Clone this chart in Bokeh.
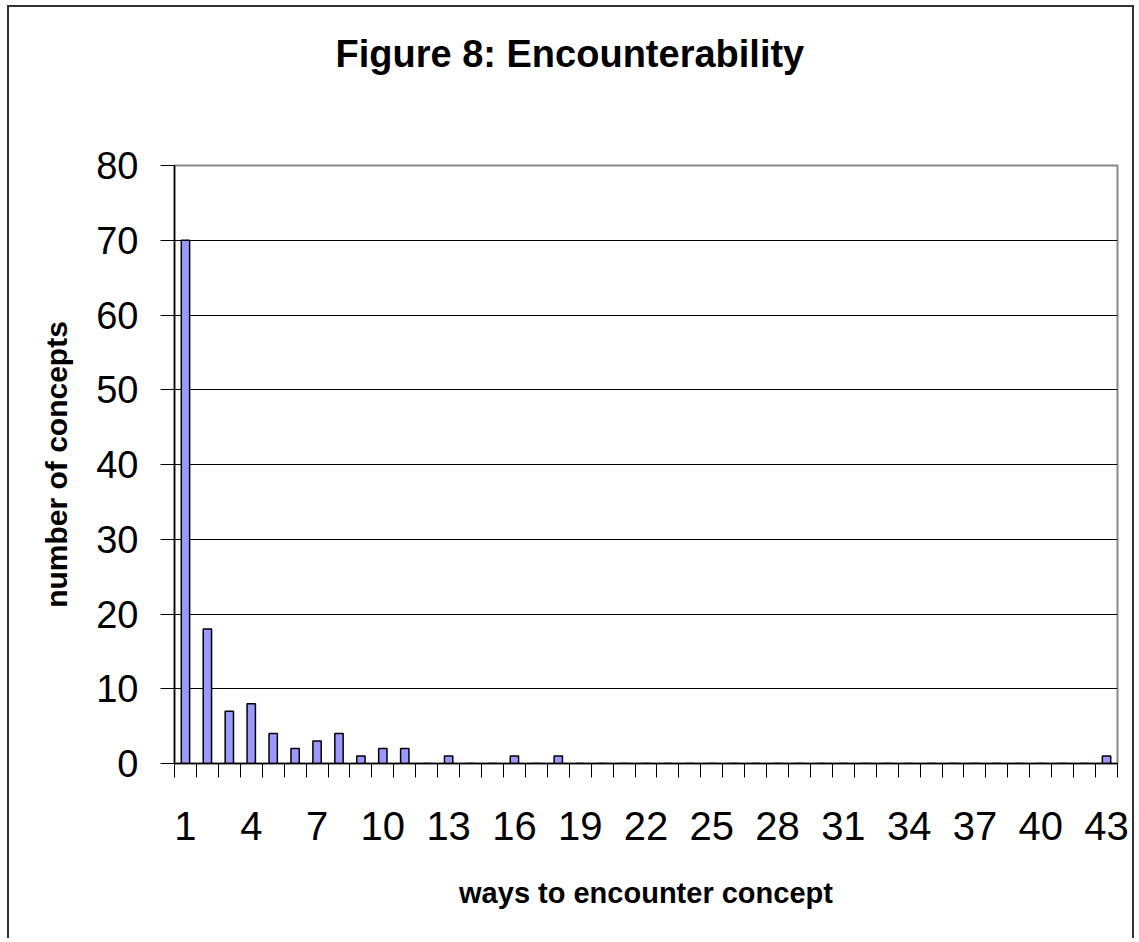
from bokeh.plotting import figure
from bokeh.models import FixedTicker, Range1d, ColumnDataSource, Title
from bokeh.embed import file_html
from bokeh.resources import INLINE

# ---- data ----
ways = list(range(1, 44))
counts = [70, 18, 7, 8, 4, 2, 3, 4, 1, 2, 2, 0, 1, 0, 0, 1, 0, 1] + [0] * 24 + [1]
x_tick_labels = list(range(1, 44, 3))
y_ticks = [0, 10, 20, 30, 40, 50, 60, 70, 80]
title_text = "Figure 8: Encounterability"

FONT = "Liberation Sans"

src = ColumnDataSource(dict(x=ways, y=counts))

p = figure(width=1127, height=933, output_backend="svg", toolbar_location=None,
           x_range=Range1d(0.5, 43.5), y_range=Range1d(0, 80),
           min_border_left=165, min_border_top=158, min_border_right=19,
           min_border_bottom=177)
p.styles = {"border-top": "2px solid #333333", "border-left": "2px solid #333333",
            "border-right": "2px solid #333333",
            "margin-left": "7px", "margin-top": "5px"}

# spacer between frame and title, then the title itself
p.add_layout(Title(text=" ", text_font_size="1px", standoff=88), "above")
p.add_layout(Title(text=title_text, align="left", offset=161, standoff=0,
                   vertical_align="bottom", text_font=FONT,
                   text_font_size="38px", text_font_style="bold",
                   text_color="black"), "above")

p.vbar(x="x", top="y", width=0.38, source=src, fill_color="#9999FF",
       line_color="black", line_width=1.5)

# x axis
p.xaxis.ticker = FixedTicker(ticks=x_tick_labels,
                             minor_ticks=[i + 0.5 for i in range(0, 44)])
p.xaxis.major_tick_out = 0
p.xaxis.major_tick_in = 0
p.xaxis.major_tick_line_color = None
p.xaxis.minor_tick_out = 14
p.xaxis.minor_tick_in = 0
p.xaxis.minor_tick_line_color = "black"
p.xaxis.axis_line_color = "black"
p.xaxis.axis_line_width = 1.5
p.xaxis.major_label_text_font = FONT
p.xaxis.major_label_text_font_size = "40px"
p.xaxis.major_label_text_color = "black"
p.xaxis.major_label_standoff = 34
p.xaxis.axis_label = "ways to encounter concept"
p.xaxis.axis_label_text_font = FONT
p.xaxis.axis_label_text_font_size = "29px"
p.xaxis.axis_label_text_font_style = "bold"
p.xaxis.axis_label_text_color = "black"
p.xaxis.axis_label_standoff = 34

# y axis
p.yaxis.ticker = FixedTicker(ticks=y_ticks)
p.yaxis.major_tick_out = 14
p.yaxis.major_tick_in = 0
p.yaxis.minor_tick_line_color = None
p.yaxis.major_tick_line_color = "black"
p.yaxis.axis_line_color = "black"
p.yaxis.axis_line_width = 1.5
p.yaxis.major_label_text_font = FONT
p.yaxis.major_label_text_font_size = "38px"
p.yaxis.major_label_text_color = "black"
p.yaxis.major_label_standoff = 22
p.yaxis.axis_label = "number of concepts"
p.yaxis.axis_label_text_font = FONT
p.yaxis.axis_label_text_font_size = "30px"
p.yaxis.axis_label_text_font_style = "bold"
p.yaxis.axis_label_text_color = "black"
p.yaxis.axis_label_standoff = 20

# grid
p.xgrid.grid_line_color = None
p.ygrid.ticker = FixedTicker(ticks=y_ticks[1:-1])
p.ygrid.grid_line_color = "black"
p.ygrid.grid_line_width = 1

p.outline_line_color = "#888888"
p.outline_line_width = 2
p.background_fill_color = "white"
p.border_fill_color = "white"

open("out.html", "w").write(file_html(p, INLINE))
